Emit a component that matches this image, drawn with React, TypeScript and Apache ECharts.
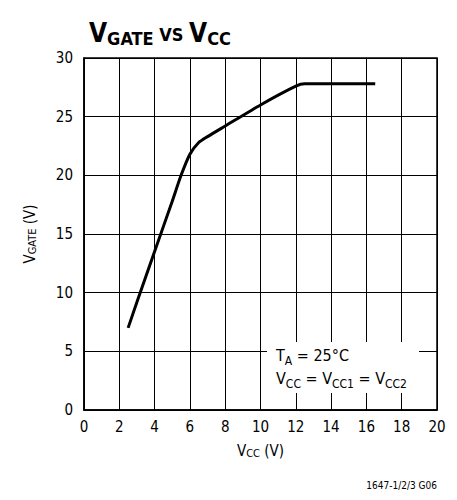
import React, { useEffect, useRef } from "react";
import * as echarts from "echarts";

const vcc = [2.5, 3, 4, 5, 5.5, 6, 6.5, 7, 8, 10, 12, 12.5, 14, 16.5];
const vgate = [7, 9.2, 13.5, 17.8, 20, 21.8, 22.8, 23.3, 24.2, 26, 27.6, 27.8, 27.8, 27.8];
const xTicks = [0, 2, 4, 6, 8, 10, 12, 14, 16, 18, 20];
const yTicks = [0, 5, 10, 15, 20, 25, 30];

const FONT = "'DejaVu Sans Condensed', 'Liberation Sans Narrow', 'Liberation Sans', sans-serif";

export default function App() {
  const ref = useRef<HTMLDivElement>(null);
  useEffect(() => {
    const chart = echarts.init(ref.current!, null, { renderer: "svg" });
    const data = vcc.map((x, i) => [x, vgate[i]]);
    const sub = (size: number, pad: number) => ({
      fontFamily: FONT, fontSize: size, color: "#000", verticalAlign: "bottom", padding: [pad, 0, 0, 0],
    });
    chart.setOption({
      animation: false,
      backgroundColor: "#fff",
      title: {
        text: "{b|V}{s|GATE}{m| VS }{b|V}{s|CC}",
        left: 84,
        top: 14,
        textStyle: {
          rich: {
            b: { fontFamily: FONT, fontWeight: "bold", fontSize: 26, color: "#000" },
            s: { ...sub(18, 10), fontWeight: "bold" },
            m: { fontFamily: FONT, fontWeight: "bold", fontSize: 18, color: "#000", verticalAlign: "bottom", padding: [0, 0, 4, 0] },
          },
        },
      },
      grid: { left: 84, right: 20, top: 58, bottom: 90, show: true, borderColor: "#000", borderWidth: 1.5 },
      xAxis: {
        type: "value",
        min: 0,
        max: 20,
        interval: 2,
        name: "{v|V}{s|CC}{v| (V)}",
        nameLocation: "middle",
        nameGap: 32,
        nameTextStyle: {
          rich: {
            v: { fontFamily: FONT, fontSize: 15, color: "#000" },
            s: sub(11, 6),
          },
        },
        axisLine: { lineStyle: { color: "#000", width: 1.5 } },
        axisTick: { show: false },
        axisLabel: { fontFamily: FONT, fontSize: 15, color: "#000", margin: 9, formatter: (v: number) => (xTicks.includes(v) ? String(v) : "") },
        splitLine: { show: true, lineStyle: { color: "#000", width: 1 } },
      },
      yAxis: {
        type: "value",
        min: 0,
        max: 30,
        interval: 5,
        name: "{v|V}{s|GATE}{v| (V)}",
        nameLocation: "middle",
        nameRotate: 90,
        nameGap: 46,
        nameTextStyle: {
          rich: {
            v: { fontFamily: FONT, fontSize: 15, color: "#000" },
            s: sub(11, 6),
          },
        },
        axisLine: { lineStyle: { color: "#000", width: 1.5 } },
        axisTick: { show: false },
        axisLabel: { fontFamily: FONT, fontSize: 15, color: "#000", margin: 11, formatter: (v: number) => (yTicks.includes(v) ? String(v) : "") },
        splitLine: { show: true, lineStyle: { color: "#000", width: 1 } },
      },
      series: [
        {
          type: "line",
          data,
          smooth: 0.2,
          symbol: "none",
          lineStyle: { color: "#000", width: 3 },
          z: 5,
        },
      ],
      graphic: [
        {
          type: "rect",
          shape: { x: 267, y: 342, width: 152, height: 51 },
          style: { fill: "#fff" },
          z: 10,
        },
        {
          type: "text",
          x: 276,
          y: 344,
          z: 11,
          style: {
            text: "{v|T}{s|A}{v| = 25°C}\n{v|V}{s|CC}{v| = V}{s|CC1}{v| = V}{s|CC2}",
            rich: {
              v: { fontFamily: FONT, fontSize: 16, fill: "#000", lineHeight: 23 },
              s: { fontFamily: FONT, fontSize: 12, fill: "#000", lineHeight: 23, verticalAlign: "bottom", padding: [7, 0, 0, 0] },
            },
          },
        },
        {
          type: "text",
          right: 20,
          top: 480,
          style: { text: "1647-1/2/3 G06", fontFamily: FONT, fontSize: 10, fill: "#000" },
        },
      ],
    });
    return () => chart.dispose();
  }, []);
  return <div ref={ref} style={{ position: "fixed", left: 0, top: 0, width: 457, height: 500 }} />;
}
